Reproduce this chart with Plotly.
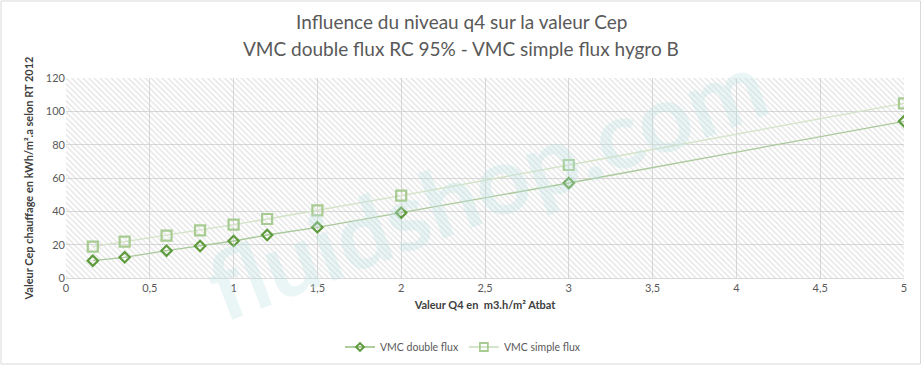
import plotly.graph_objects as go

q4 = [0.16, 0.35, 0.6, 0.8, 1.0, 1.2, 1.5, 2.0, 3.0, 5.0]
cep_double = [10.4, 12.4, 16.4, 19.2, 22.2, 25.8, 30.4, 39.2, 57.0, 94.0]
cep_simple = [18.8, 21.8, 25.4, 28.6, 32.0, 35.4, 40.6, 49.4, 67.8, 104.8]
x_range = [0, 5]
y_range = [0, 120]
title_lines = ["Influence du niveau q4 sur la valeur Cep",
               "VMC double flux RC 95% - VMC simple flux hygro B"]
series_names = ["VMC double flux", "VMC simple flux"]

W, H = 922, 367
ml, mr, mt, mb = 66, 18, 78, 89
pw, ph = W - ml - mr, H - mt - mb

font = "Lato, 'Open Sans', sans-serif"

c_dbl_line, c_dbl_mark = "#A9C99A", "#5E9B3C"
c_smp_line, c_smp_mark = "#D3E3C6", "#A8CB92"


def py(p):
    return (H - mb - p) / ph


def px(p):
    return (p - ml) / pw


fig = go.Figure()

# hatched plot-area background
fig.add_trace(go.Scatter(
    x=[x_range[0], x_range[1], x_range[1], x_range[0], x_range[0]],
    y=[y_range[0], y_range[0], y_range[1], y_range[1], y_range[0]],
    mode="none", fill="toself", fillcolor="rgba(255,255,255,0)",
    fillpattern=dict(shape="\\", fgcolor="#c4c4c4", size=4, solidity=0.3),
    hoverinfo="skip", showlegend=False))

fig.add_trace(go.Scatter(
    x=q4, y=cep_double, name=series_names[0], mode="lines+markers", showlegend=False,
    line=dict(color=c_dbl_line, width=1.3),
    marker=dict(symbol="diamond-open", size=8, color=c_dbl_mark, line=dict(width=2.2, color=c_dbl_mark))))
fig.add_trace(go.Scatter(
    x=q4, y=cep_simple, name=series_names[1], mode="lines+markers", showlegend=False,
    line=dict(color=c_smp_line, width=1.3),
    marker=dict(symbol="square-open", size=10, color=c_smp_mark, line=dict(width=2.2, color=c_smp_mark))))

# legend entries with small markers
fig.add_trace(go.Scatter(
    x=[None], y=[None], name=series_names[0], mode="lines+markers",
    line=dict(color=c_dbl_mark, width=1),
    marker=dict(symbol="diamond-open", size=6, color=c_dbl_mark, line=dict(width=2, color=c_dbl_mark))))
fig.add_trace(go.Scatter(
    x=[None], y=[None], name=series_names[1], mode="lines+markers",
    line=dict(color=c_smp_mark, width=1),
    marker=dict(symbol="square-open", size=8, color=c_smp_mark, line=dict(width=1.8, color=c_smp_mark))))

annotations = [
    dict(text="<b>fluidshop.com</b>", xref="paper", yref="paper", x=px(485), y=py(183),
         showarrow=False, textangle=-21,
         font=dict(family="Lato, sans-serif", size=94, color="rgba(190,228,228,0.33)")),
    dict(text=title_lines[0], xref="paper", yref="paper", x=px(461), y=py(22),
         showarrow=False, xanchor="center", yanchor="middle",
         font=dict(family=font, size=19, color="#595959")),
    dict(text=title_lines[1], xref="paper", yref="paper", x=px(461), y=py(48),
         showarrow=False, xanchor="center", yanchor="middle",
         font=dict(family=font, size=19, color="#595959")),
]

fig.update_layout(
    width=W, height=H,
    margin=dict(l=ml, r=mr, t=mt, b=mb, autoexpand=False),
    paper_bgcolor="white", plot_bgcolor="white",
    separators=", ",
    font=dict(family=font, size=11, color="#595959"),
    legend=dict(orientation="h", x=px(463), xanchor="center", y=py(347), yanchor="middle",
                font=dict(size=10.5, color="#595959"), itemwidth=30),
    xaxis=dict(range=x_range, dtick=0.5, showgrid=True, gridcolor="#d9d9d9", gridwidth=1,
               zeroline=False, showline=True, linecolor="#d9d9d9", ticks="",
               tickfont=dict(size=11, color="#595959"),
               title=dict(text="<b>Valeur Q4 en  m3.h/m² Atbat</b>", standoff=8,
                          font=dict(size=11, color="#404040"))),
    yaxis=dict(range=y_range, dtick=20, showgrid=True, gridcolor="#d9d9d9", gridwidth=1,
               zeroline=False, showline=False, ticks="",
               tickfont=dict(size=11, color="#595959"),
               title=dict(text="<b>Valeur Cep chauffage en kWh/m².a selon RT 2012</b>", standoff=10,
                          font=dict(size=11, color="#404040"))),
    annotations=annotations,
    shapes=[dict(type="rect", xref="paper", yref="paper", layer="above",
                 x0=px(1), x1=px(920.5), y0=py(364), y1=py(1),
                 line=dict(color="#d9d9d9", width=1))],
)

fig.write_html("out.html", config={"displayModeBar": False},
               post_script="document.body.style.margin='0';")
